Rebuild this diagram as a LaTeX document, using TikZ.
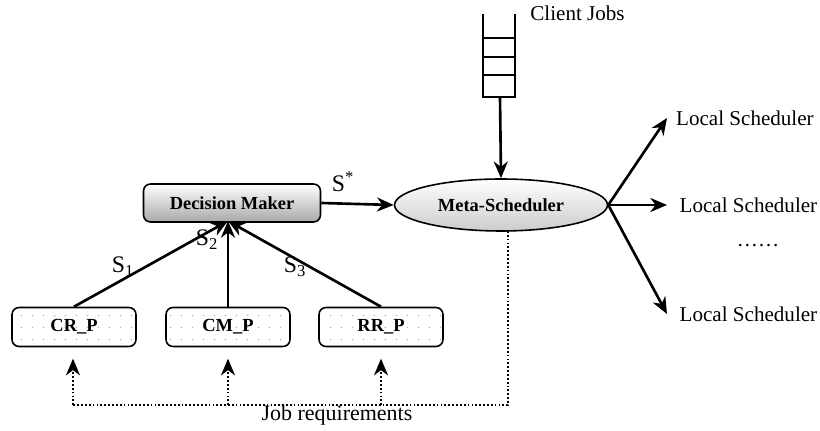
\documentclass[tikz,border=0pt]{standalone}
\usepackage{fontspec}
\setmainfont{Liberation Serif}
\usetikzlibrary{arrows.meta,shapes.geometric,patterns.meta}
\newcommand{\LINEPT}{1.5pt}
\newcommand{\DOTPT}{1pt}
\definecolor{mygray}{rgb}{0.66,0.66,0.66}
\definecolor{mylight}{rgb}{0.80,0.80,0.80}
\definecolor{mydot}{rgb}{0.72,0.72,0.72}

\tikzset{
	tip/.style={-{Stealth[length=9.5pt,width=8pt,inset=3pt]}},
	solidline/.style={line width=\LINEPT},
	dotline/.style={line width=\DOTPT,dash pattern=on 1pt off 1.2pt},
	maker/.style={draw,line width=0.9pt,rounded corners=4pt,top color=white,bottom color=mygray,
		minimum width=3.54cm,minimum height=0.76cm,font=\fontsize{10.5}{12}\selectfont\bfseries},
	metanode/.style={draw,ellipse,line width=0.9pt,top color=white,bottom color=mylight,
		minimum width=4.26cm,minimum height=1.04cm,font=\fontsize{10.5}{12}\selectfont\bfseries},
	policy/.style={draw,line width=0.9pt,rounded corners=4pt,
		preaction={fill=white},pattern={Dots[distance=6.5pt,radius=0.5pt]},pattern color=mydot,
		minimum width=2.48cm,minimum height=0.78cm,font=\fontsize{10.5}{12}\selectfont\bfseries},
	plain/.style={inner sep=0pt,font=\fontsize{12}{14}\selectfont},
	slabel/.style={inner sep=0pt,font=\fontsize{13.5}{15}\selectfont},
}

\begin{document}
\begin{tikzpicture}[x=0.02cm,y=-0.02cm]
	\useasboundingbox (0,0) rectangle (820,431);

	%% main nodes
	\node[maker] (dm) at (232,203) {Decision Maker};
	\node[metanode] (ms) at (501,205) {Meta-Scheduler};
	\node[policy] (crp) at (74,327) {CR\_P};
	\node[policy] (cmp) at (228,327) {CM\_P};
	\node[policy] (rrp) at (381,327) {RR\_P};

	%% client job queue
	\draw[line width=\LINEPT] (483,14) -- (483,97) -- (515,97) -- (515,14);
	\foreach \y in {38,57,75}
		\draw[line width=\LINEPT] (483,\y) -- (515,\y);
	\coordinate (qout) at (500,97);
	\node[plain,anchor=west] (cj) at (530,13) {Client Jobs};
	\draw[solidline,tip] (qout) -- (ms.north);

	%% decision -> meta-scheduler
	\draw[solidline,tip] (dm.east) -- (ms.west) node [pos=0.3, above=6pt, slabel] (sstar) {S\textsuperscript{*}};

	%% policies -> decision maker
	\coordinate (dmin) at (228,221);
	\draw[solidline,tip] (crp.north) -- (dmin);
	\draw[solidline,tip] (cmp.north) -- (dmin);
	\draw[solidline,tip] (rrp.north) -- (dmin);
	\node[slabel] (s1) at (123,267) {S\textsubscript{1}};
	\node[slabel] (s2) at (207,240) {S\textsubscript{2}};
	\node[slabel] (s3) at (295,267) {S\textsubscript{3}};

	%% local schedulers
	\node[plain,anchor=west,inner sep=5pt] (ls1) at (667,118) {Local Scheduler};
	\node[plain,anchor=west,inner sep=7pt] (ls2) at (667,205) {Local Scheduler};
	\node[plain,anchor=west,inner sep=7pt] (ls3) at (667,314) {Local Scheduler};
	\node[plain] (lsdots) at (758,246) {……};
	\draw[solidline,tip] (ms.east) -- (ls1.west);
	\draw[solidline,tip] (ms.east) -- (ls2.west);
	\draw[solidline,tip] (ms.east) -- (ls3.west);

	%% job requirements feedback
	\coordinate (jrtop) at (508,231);
	\coordinate (jrleft) at (73,405);
	\draw[dotline] (jrtop) |- (jrleft);
	\draw[dotline,tip,shorten >=6.5pt] (jrleft) -- (crp.south -| jrleft);
	\draw[dotline,tip,shorten >=6.5pt] (cmp.south |- jrleft) -- (cmp.south);
	\draw[dotline,tip,shorten >=6.5pt] (rrp.south |- jrleft) -- (rrp.south);
	\node[plain,anchor=north,font=\fontsize{12.5}{14}\selectfont] (jr) at (337,405) {Job requirements};

\end{tikzpicture}
\end{document}
